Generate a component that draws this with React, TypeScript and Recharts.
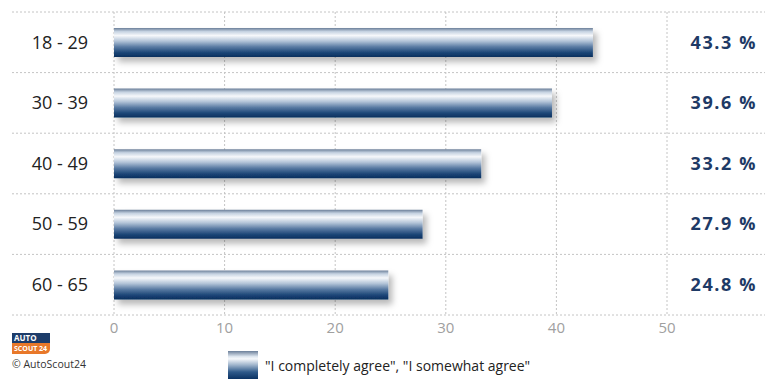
import { BarChart, Bar, XAxis, YAxis, CartesianGrid } from "recharts";

const ageGroups = ["18 - 29", "30 - 39", "40 - 49", "50 - 59", "60 - 65"];
const agreeShare = [43.3, 39.6, 33.2, 27.9, 24.8];
const xTicks = [0, 10, 20, 30, 40, 50];

const rows = ageGroups.map((age, i) => ({ age, share: agreeShare[i], label: `${agreeShare[i].toFixed(1)} %` }));

const FONT = "'Open Sans', 'DejaVu Sans', sans-serif";

function GridRow(props: any) {
  return (
    <line
      x1={12}
      x2={765}
      y1={props.y1}
      y2={props.y2}
      stroke="#c4c4c4"
      strokeDasharray="2 2"
      strokeWidth={1}
    />
  );
}

// percentage labels, right aligned at the chart's right edge
function ShareTick(props: any) {
  const { x, y, payload } = props;
  return (
    <text
      x={x + 90}
      y={y}
      dy="0.35em"
      textAnchor="end"
      fill="#1e3a66"
      fontSize={18}
      fontWeight={700}
      fontFamily={FONT}
      letterSpacing={1.6}
    >
      {payload.value}
    </text>
  );
}

function Legend() {
  return (
    <div style={{ position: "absolute", left: 228, top: 351, display: "flex", alignItems: "center" }}>
      <div
        style={{
          width: 30,
          height: 28,
          background:
            "linear-gradient(#6b7f99 0%, #dfe7f0 20%, #f6f8fb 28%, #9fb4cc 50%, #2f5a8a 75%, #0b3263 100%)",
        }}
      />
      <span style={{ marginLeft: 7, fontFamily: FONT, fontSize: 14, color: "#222" }}>
        "I completely agree", "I somewhat agree"
      </span>
    </div>
  );
}

function Logo() {
  return (
    <div style={{ position: "absolute", left: 12, top: 333, fontFamily: FONT }}>
      <div style={{ width: 38, height: 10, background: "#1d3c6a", color: "#fff", fontSize: 8, fontWeight: 700, lineHeight: "10px", paddingLeft: 2, boxSizing: "border-box" }}>
        AUTO
      </div>
      <div style={{ width: 38, height: 11, background: "#e8782a", color: "#fff", fontSize: 7, fontWeight: 700, lineHeight: "11px", paddingLeft: 2, boxSizing: "border-box", borderBottomRightRadius: 5 }}>
        SCOUT 24
      </div>
      <div style={{ marginTop: 3, fontSize: 10.5, color: "#333", whiteSpace: "nowrap" }}>© AutoScout24</div>
    </div>
  );
}

export default function App() {
  return (
    <div style={{ position: "absolute", left: 0, top: 0, width: 771, height: 379, background: "#fff" }}>
      <BarChart
        width={771}
        height={379}
        data={rows}
        layout="vertical"
        margin={{ top: 12, right: 14, bottom: 34, left: 0 }}
        barCategoryGap={0}
      >
        <defs>
          <linearGradient id="barFill" x1="0" y1="0" x2="0" y2="1">
            <stop offset="0%" stopColor="#6b7f99" />
            <stop offset="12%" stopColor="#c5d2e1" />
            <stop offset="26%" stopColor="#f6f8fb" />
            <stop offset="45%" stopColor="#b3c4d8" />
            <stop offset="65%" stopColor="#5a7ba3" />
            <stop offset="85%" stopColor="#1c4677" />
            <stop offset="100%" stopColor="#0a2f5e" />
          </linearGradient>
          <filter id="barShadow" x="-5%" y="-30%" width="115%" height="190%">
            <feDropShadow dx={4} dy={5} stdDeviation={3} floodColor="#000" floodOpacity={0.28} />
          </filter>
        </defs>
        <CartesianGrid
          yAxisId="left"
          stroke="#c4c4c4"
          strokeDasharray="2 2"
          horizontal={(p: any) => <GridRow key={p.key} {...p} />}
          horizontalCoordinatesGenerator={({ offset }: any) =>
            Array.from({ length: ageGroups.length + 1 }, (_, i) => offset.top + (i * offset.height) / ageGroups.length)
          }
        />
        <XAxis
          type="number"
          domain={[0, 50]}
          ticks={xTicks}
          axisLine={false}
          tickLine={false}
          tickSize={0}
          tickMargin={7}
          height={30}
          tick={{ fill: "#a0a0a0", fontSize: 15, fontFamily: FONT }}
        />
        <YAxis
          yAxisId="left"
          type="category"
          dataKey="age"
          width={114}
          axisLine={false}
          tickLine={false}
          tickSize={0}
          tickMargin={26}
          tick={{ fill: "#222", fontSize: 18, fontFamily: FONT }}
        />
        <YAxis
          yAxisId="right"
          orientation="right"
          type="category"
          dataKey="label"
          width={90}
          axisLine={false}
          tickLine={false}
          tickSize={0}
          tickMargin={0}
          tick={<ShareTick />}
        />
        <Bar
          yAxisId="left"
          dataKey="share"
          barSize={29}
          fill="url(#barFill)"
          filter="url(#barShadow)"
          isAnimationActive={false}
        />
      </BarChart>
      <Logo />
      <Legend />
    </div>
  );
}
